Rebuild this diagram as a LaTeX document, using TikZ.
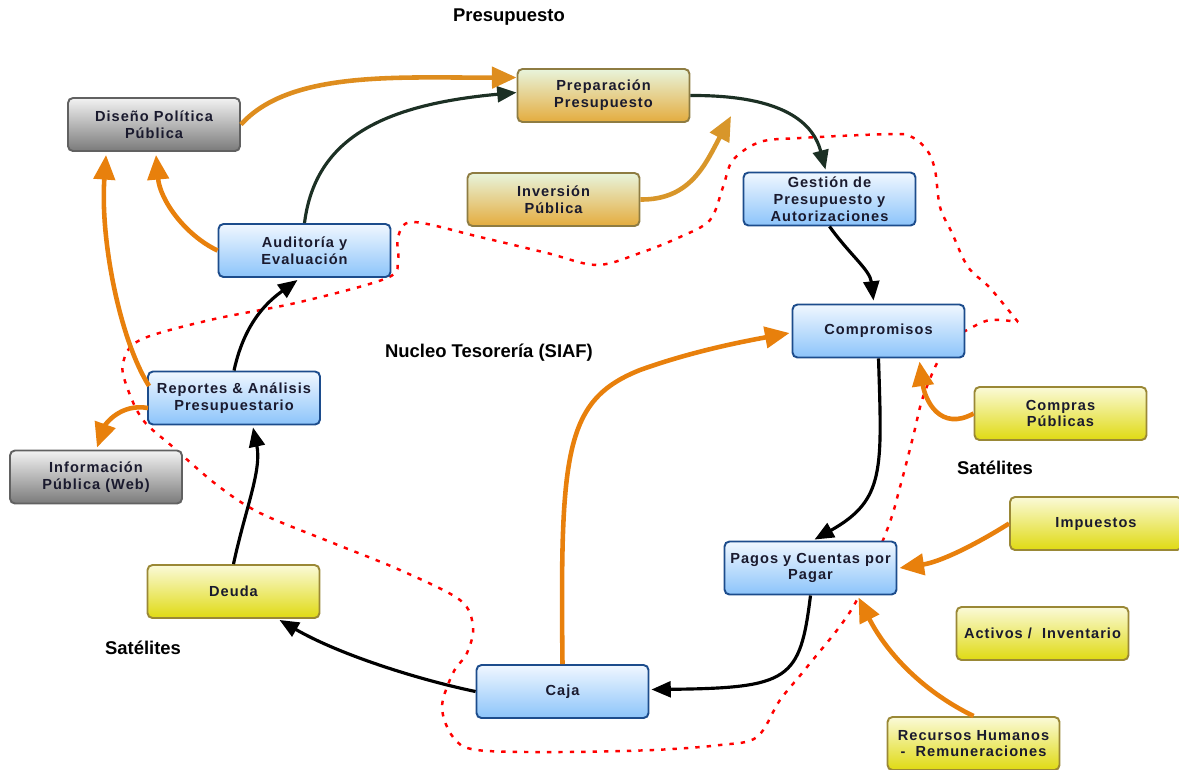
\documentclass[tikz,border=0pt]{standalone}
\usepackage{fontspec}
\setmainfont{Liberation Sans}
\newfontfamily\boxfont[LetterSpace=7]{Liberation Sans}
\usetikzlibrary{arrows.meta,calc}

\definecolor{txtc}{HTML}{1A1A2E}
\definecolor{orangec}{HTML}{E8800C}
\definecolor{goldc}{HTML}{D8962A}
\definecolor{darkc}{HTML}{1C3024}
\definecolor{blueline}{HTML}{1C4C8C}
\definecolor{bluetop}{HTML}{F0F7FF}
\definecolor{bluebot}{HTML}{8CC4FA}
\definecolor{goldtop}{HTML}{E8F4DC}
\definecolor{goldbot}{HTML}{E4AC3E}
\definecolor{goldline}{HTML}{8E7C42}
\definecolor{yeltop}{HTML}{FAFAD8}
\definecolor{yelbot}{HTML}{E0DA12}
\definecolor{yelline}{HTML}{9A8836}

\tikzset{
  box/.style={rounded corners=2.8pt, line width=1.1pt, minimum width=3.44cm,
    minimum height=1.06cm, inner sep=1pt, align=center, text=txtc,
    font=\boxfont\bfseries\fontsize{8.3}{9.6}\selectfont},
  bluebox/.style={box, draw=blueline, top color=bluetop, bottom color=bluebot},
  graybox/.style={box, draw=black!62, top color=black!5, bottom color=black!52},
  goldbox/.style={box, draw=goldline, top color=goldtop, bottom color=goldbot},
  yellowbox/.style={box, draw=yelline, top color=yeltop, bottom color=yelbot},
  flow/.style={-{Triangle[length=11pt,width=9pt]}, line width=1.8pt},
  feed/.style={-{Triangle[length=14pt,width=12pt]}, line width=2.6pt, draw=orangec},
  titulo/.style={font=\bfseries\fontsize{10.5}{12}\selectfont, text=black}
}

\begin{document}
\begin{tikzpicture}[x=0.02cm,y=-0.02cm]
\useasboundingbox (0,0) rectangle (1179,769);

% limite del nucleo
\draw[red, line width=1.4pt, dash pattern=on 2.5pt off 4pt]
  plot[smooth, tension=0.55] coordinates {(1018,322) (990,288) (968,267) (952,233) (940,207)
  (935,170) (927,150) (912,137) (893,134) (800,138) (760,142) (733,160) (723,187) (710,220)
  (680,237) (640,253) (597,265) (547,253) (480,237) (413,222) (398,237) (398,260) (387,278)
  (300,302) (210,320) (140,340) (123,363) (127,387) (143,420) (173,447) (217,485) (260,513)
  (333,543) (400,570) (460,600) (473,627) (467,653) (453,673) (442,707) (453,737) (477,750)
  (560,752) (653,750) (720,745) (757,737) (780,700) (807,667) (853,607) (887,530) (900,487)
  (913,437) (923,397) (940,357) (955,338) (967,330) (990,320) (1018,322)};

% nodos
\node[graybox] (dis) at (154,124.5) {Diseño Política\\Pública};
\node[goldbox] (prep) at (603.5,95.5) {Preparación\\Presupuesto};
\node[goldbox] (inv) at (553.5,199.5) {Inversión\\Pública};
\node[bluebox] (gest) at (829.5,199) {Gestión de\\Presupuesto y\\Autorizaciones};
\node[bluebox] (aud) at (304.5,250.5) {Auditoría y\\Evaluación};
\node[bluebox] (comp) at (878.5,331) {Compromisos};
\node[bluebox] (rep) at (234,398) {Reportes \& Análisis\\Presupuestario};
\node[graybox] (info) at (96,477) {Información\\Pública (Web)};
\node[yellowbox] (compras) at (1060.5,413.5) {Compras\\Públicas};
\node[yellowbox] (imp) at (1096,523.5) {Impuestos};
\node[bluebox] (pagos) at (810.5,568) {Pagos y Cuentas por\\Pagar};
\node[yellowbox] (act) at (1042.5,633.5) {Activos /\ \ Inventario};
\node[yellowbox] (deuda) at (233.5,591.5) {Deuda};
\node[bluebox] (caja) at (562.5,691.5) {Caja};
\node[yellowbox] (rrhh) at (973.5,743.5) {Recursos Humanos\\-\ \ Remuneraciones};

\node[titulo] (t1) at (509,17) {Presupuesto};
\node[titulo] (t2) at (489,353) {Nucleo Tesorería (SIAF)};
\node[titulo] (t3) at (995,468) {Satélites};
\node[titulo] (t4) at (143,648) {Satélites};

\coordinate (invtip) at (731,116);

% flujo principal
\draw[flow, draw=darkc] (aud.north) .. controls (315,140) and (380,105) .. ($(prep.west)+(0,-3)$);
\draw[flow, draw=darkc] (prep.east) .. controls (775,95) and (812,118) .. ($(gest.north)+(-4,-2)$);
\draw[flow] (gest.south) .. controls (850,255) and (870,270) .. ($(comp.north)+(-5,-3)$);
\draw[flow] (comp.south) .. controls (882,470) and (885,500) .. ($(pagos.north)+(4,-1)$);
\draw[flow] (pagos.south) .. controls (800,680) and (790,688) .. ($(caja.east)+(2,-2)$);
\draw[flow] (caja.west) .. controls (420,680) and (340,655) .. ($(deuda.south)+(46,1)$);
\draw[flow] (deuda.north) .. controls (245,510) and (262,470) .. ($(rep.south)+(19,2)$);
\draw[flow] (rep.north) .. controls (245,320) and (270,300) .. ($(aud.south)+(-7,2)$);

% satelites
\draw[feed, draw=goldc!60!orangec] (dis.east) .. controls (290,70) and (400,78) .. ($(prep.west)+(0,-18)$);
\draw[feed, draw=goldc] (inv.east) .. controls (690,200) and (705,165) .. (invtip);
\draw[feed] ($(rep.west)+(2,-12)$) .. controls (120,340) and (100,240) .. ($(dis.south west)+(39,3)$);
\draw[feed] (aud.west) .. controls (185,235) and (160,200) .. ($(dis.south)+(2,3)$);
\draw[feed] ($(rep.west)+(1,10)$) .. controls (120,403) and (105,425) .. ($(info.north)+(1,-2)$);
\draw[feed] (caja.north) .. controls (560,450) and (565,400) .. (640,370) .. controls (690,352) and (740,342) .. ($(comp.west)+(-2,2)$);
\draw[feed] (compras.west) .. controls (940,432) and (925,400) .. ($(comp.south)+(41,3)$);
\draw[feed] (imp.west) .. controls (975,545) and (940,562) .. ($(pagos.east)+(2,0)$);
\draw[feed] (rrhh.north) .. controls (920,690) and (885,650) .. ($(pagos.south)+(48,2)$);
\end{tikzpicture}
\end{document}
